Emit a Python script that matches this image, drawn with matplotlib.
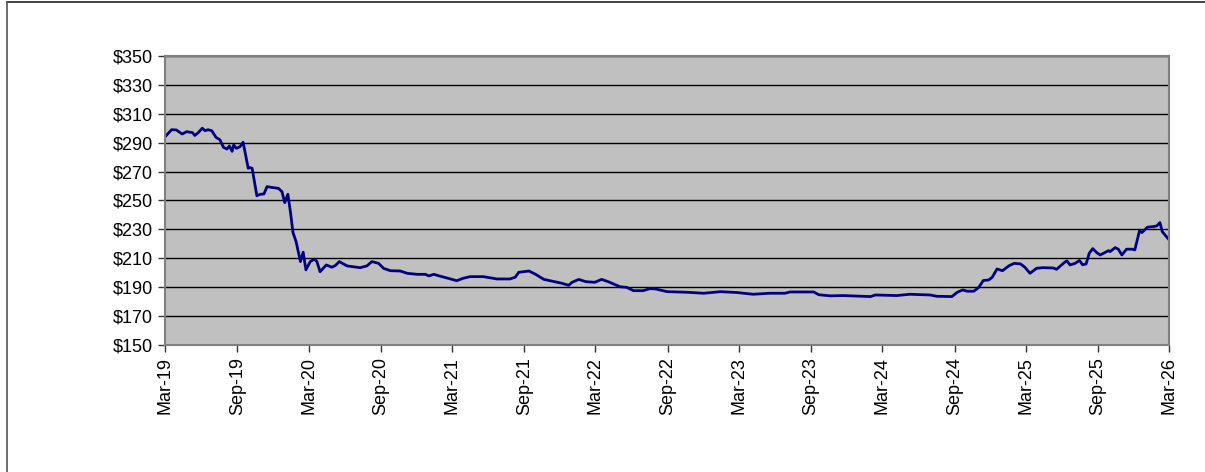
import numpy as np
import pandas as pd
import matplotlib
matplotlib.use('Agg')
import matplotlib.pyplot as plt
import matplotlib.dates as mdates
from matplotlib.lines import Line2D
from matplotlib.ticker import FuncFormatter

dates = [
    '2019-03-01', '2019-03-18', '2019-03-30', '2019-04-14', '2019-04-25', '2019-05-10',
    '2019-05-16', '2019-05-25', '2019-06-04', '2019-06-11', '2019-06-19', '2019-06-28',
    '2019-07-09', '2019-07-19', '2019-07-28', '2019-08-06', '2019-08-12', '2019-08-19',
    '2019-08-23', '2019-08-30', '2019-09-08', '2019-09-16', '2019-09-29', '2019-10-04',
    '2019-10-09', '2019-10-21', '2019-10-30', '2019-11-08', '2019-11-16', '2019-11-26',
    '2019-12-15', '2019-12-24', '2019-12-31', '2020-01-08', '2020-01-15', '2020-01-21',
    '2020-01-29', '2020-02-09', '2020-02-16', '2020-02-23', '2020-03-05', '2020-03-16',
    '2020-03-22', '2020-03-30', '2020-04-15', '2020-04-29', '2020-05-08', '2020-05-18',
    '2020-06-07', '2020-07-10', '2020-07-27', '2020-08-09', '2020-08-26', '2020-09-08',
    '2020-09-25', '2020-10-20', '2020-11-07', '2020-12-02', '2020-12-23', '2021-01-01',
    '2021-01-14', '2021-01-27', '2021-02-09', '2021-03-13', '2021-03-30', '2021-04-16',
    '2021-05-20', '2021-06-23', '2021-07-27', '2021-08-09', '2021-08-18', '2021-09-13',
    '2021-09-30', '2021-10-21', '2021-11-24', '2021-12-06', '2021-12-23', '2022-01-01',
    '2022-01-18', '2022-02-05', '2022-02-28', '2022-03-17', '2022-04-03', '2022-05-03',
    '2022-05-20', '2022-06-06', '2022-07-01', '2022-07-18', '2022-08-01', '2022-08-31',
    '2022-10-20', '2022-12-02', '2023-01-14', '2023-02-25', '2023-04-07', '2023-05-19',
    '2023-06-27', '2023-07-10', '2023-09-08', '2023-09-21', '2023-10-20', '2023-11-23',
    '2024-01-31', '2024-02-12', '2024-04-07', '2024-05-10', '2024-07-01', '2024-07-18',
    '2024-08-25', '2024-09-08', '2024-09-22', '2024-10-03', '2024-10-20', '2024-11-02',
    '2024-11-13', '2024-11-27', '2024-12-06', '2024-12-18', '2025-01-01', '2025-01-18',
    '2025-01-31', '2025-02-16', '2025-02-27', '2025-03-12', '2025-03-29', '2025-04-15',
    '2025-05-10', '2025-05-19', '2025-06-05', '2025-06-14', '2025-06-22', '2025-07-05',
    '2025-07-16', '2025-07-24', '2025-08-02', '2025-08-10', '2025-08-19', '2025-08-29',
    '2025-09-07', '2025-09-20', '2025-09-28', '2025-10-02', '2025-10-15', '2025-10-23',
    '2025-11-01', '2025-11-13', '2025-11-27', '2025-12-04', '2025-12-16', '2025-12-22',
    '2026-01-05', '2026-01-22', '2026-01-29', '2026-02-06', '2026-02-12', '2026-02-28',
]
prices = [
    294.0, 299.0, 298.8, 296.0, 297.6, 297.0,
    295.0, 297.0, 300.0, 298.3, 299.0, 298.3,
    293.7, 292.0, 286.8, 285.6, 287.7, 284.0,
    288.4, 286.1, 287.2, 290.3, 272.3, 272.7,
    272.3, 253.3, 254.3, 254.5, 259.6, 259.1,
    258.4, 256.1, 248.5, 254.3, 241.2, 227.8,
    221.5, 207.7, 214.2, 202.0, 207.7, 209.5,
    207.7, 200.7, 205.4, 203.8, 205.0, 207.7,
    204.7, 203.5, 204.7, 207.7, 206.5, 203.0,
    201.4, 201.2, 199.6, 198.9, 198.9, 197.8,
    198.9, 197.8, 196.9, 194.5, 196.2, 197.3,
    197.3, 195.7, 195.7, 196.9, 200.3, 201.2,
    198.9, 195.4, 193.4, 192.7, 191.3, 193.4,
    195.4, 193.8, 193.4, 195.4, 193.8, 190.3,
    189.9, 187.6, 187.6, 189.0, 188.8, 186.9,
    186.5, 185.8, 186.9, 186.3, 185.1, 185.8,
    185.8, 186.7, 186.7, 184.8, 184.0, 184.2,
    183.5, 184.6, 184.2, 185.1, 184.6, 183.7,
    183.5, 186.5, 188.1, 187.2, 187.2, 190.0,
    194.6, 195.0, 196.9, 202.6, 201.4, 204.9,
    206.5, 206.1, 203.8, 199.6, 203.1, 203.5,
    203.3, 202.4, 206.5, 208.3, 205.4, 206.5,
    208.5, 205.5, 206.1, 213.5, 216.7, 213.9,
    212.3, 214.2, 215.3, 214.6, 217.4, 216.3,
    212.3, 216.3, 216.3, 215.8, 229.1, 227.8,
    231.5, 232.0, 232.4, 234.7, 228.4, 223.2,
]
y_ticks = np.arange(150, 351, 20)

x = pd.to_datetime(dates)

plt.rcParams['font.family'] = ['Liberation Sans', 'DejaVu Sans']

fig = plt.figure(figsize=(12.05, 4.72), dpi=100)
ax = fig.add_axes([0.1369, 0.2691, 0.8332, 0.6123])

# frame lines along top and left of the figure (as in the source image)
fig.lines.append(Line2D([0.006, 1.0], [0.995, 0.995], transform=fig.transFigure,
                        color='#222222', linewidth=1.2))
fig.lines.append(Line2D([0.006, 0.006], [0.0, 0.995], transform=fig.transFigure,
                        color='#555555', linewidth=1.2))

ax.set_facecolor('#C0C0C0')
ax.plot(x, prices, color='#000080', linewidth=2.0)

ax.set_ylim(150, 350)
ax.set_yticks(y_ticks)
ax.yaxis.set_major_formatter(FuncFormatter(lambda v, p: '$%d' % v))
ax.grid(axis='y', color='black', linewidth=1.0)
ax.set_axisbelow(True)

ax.set_xlim(pd.Timestamp('2019-03-01'), pd.Timestamp('2026-03-01'))
ax.xaxis.set_major_locator(mdates.MonthLocator(bymonth=[3, 9]))
ax.xaxis.set_major_formatter(mdates.DateFormatter('%b-%y'))
plt.setp(ax.get_xticklabels(), rotation=90)

ax.tick_params(axis='both', labelsize=13, length=5, width=1, color='#333333', direction='out')
for s in ax.spines.values():
    s.set_color('#808080')
    s.set_linewidth(1.5)

fig.savefig('out.png', dpi=100)
